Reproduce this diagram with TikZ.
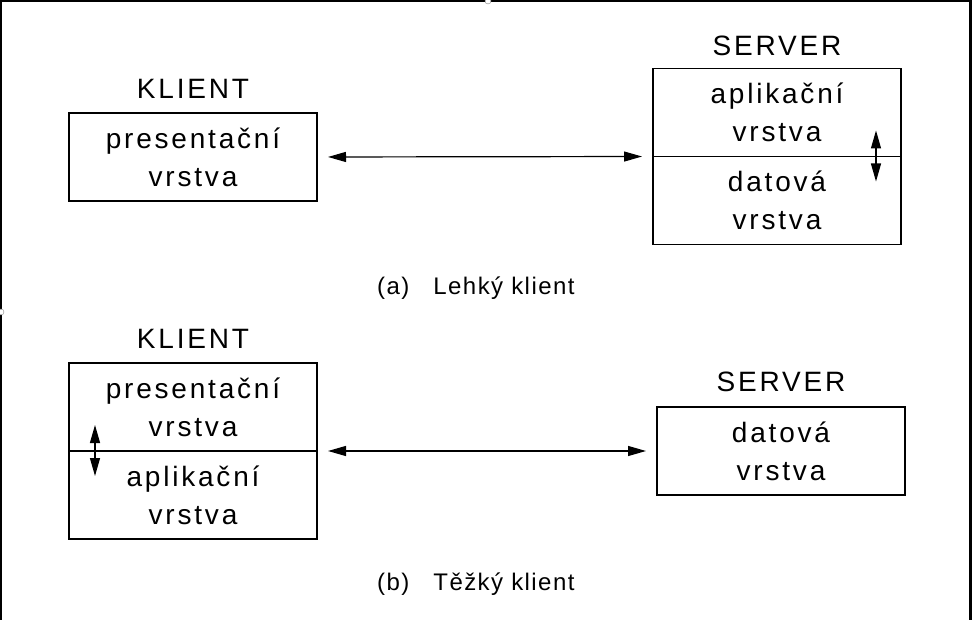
\documentclass[tikz,border=0pt]{standalone}
\usepackage{fontspec}
\usepackage{tikz}
\usetikzlibrary{positioning,arrows.meta}
\newfontfamily\vrstvafont{Liberation Sans}[LetterSpace=10]
\newfontfamily\popisfont{Liberation Sans}[LetterSpace=6]

\tikzset{
  vrstva/.style={draw, line width=1.2pt, minimum width=248pt, minimum height=88pt,
    inner sep=0pt, outer sep=0pt, align=center, font=\vrstvafont\fontsize{28}{38}\selectfont},
  nadpis/.style={inner sep=0pt, anchor=south, font=\vrstvafont\fontsize{28}{34}\selectfont},
  popis/.style={inner sep=0pt, anchor=base west, font=\popisfont\fontsize{24}{28}\selectfont},
  sipka/.style={line width=1.2pt, {Triangle[length=18pt,width=10pt]}-{Triangle[length=18pt,width=10pt]}}
}

\begin{document}
\begin{tikzpicture}[x=1pt, y=-1pt]
            \useasboundingbox (0,0) rectangle (972,620);
            % Draw frame
            \draw[line width=2.2pt] (1,620) -- (1,1) -- (970.5,1) -- (970.5,620);
            \draw[gray, fill=white] (488,1) circle (3);
            \draw[gray, fill=white] (1,312) circle (3);

            % (a) thin client
            \node[vrstva] (kpres) at (193,157) {presentační\\vrstva};
            \node[nadpis, above=14pt of kpres] (klient) {KLIENT};
            \node[vrstva] (sapl) at (777,112.5) {aplikační\\vrstva};
            \node[vrstva, below=0pt of sapl] (sdat) {datová\\vrstva};
            \node[nadpis, above=13pt of sapl] (server) {SERVER};
            \coordinate (sa) at ([shift={(-25,-26)}]sapl.south east);
            \coordinate (sb) at ([shift={(-25,25)}]sapl.south east);

            % Connect layers with arrows
            \draw[sipka, shorten <=11pt, shorten >=11pt] (kpres.east) -- (sapl.south west);
            \draw[sipka] (sa) -- (sb);
            \node[popis] (popisa) at (377,295) {(a)\hspace{24pt}Lehký klient};

            % (b) thick client
            \node[vrstva] (kpres2) at (193,407) {presentační\\vrstva};
            \node[vrstva, below=0pt of kpres2] (kapl2) {aplikační\\vrstva};
            \node[nadpis, above=14pt of kpres2] (klient2) {KLIENT};
            \node[vrstva] (sdat2) at (781,451) {datová\\vrstva};
            \node[nadpis, above=15pt of sdat2] (server2) {SERVER};
            \coordinate (ka) at ([shift={(26,-26)}]kpres2.south west);
            \coordinate (kb) at ([shift={(26,25)}]kpres2.south west);

            % Connect layers with arrows
            \draw[sipka, shorten <=11pt, shorten >=11pt] (kpres2.south east) -- (sdat2.west);
            \draw[sipka] (ka) -- (kb);
            \node[popis] (popisb) at (377,590) {(b)\hspace{24pt}Těžký klient};
          \end{tikzpicture}
\end{document}
